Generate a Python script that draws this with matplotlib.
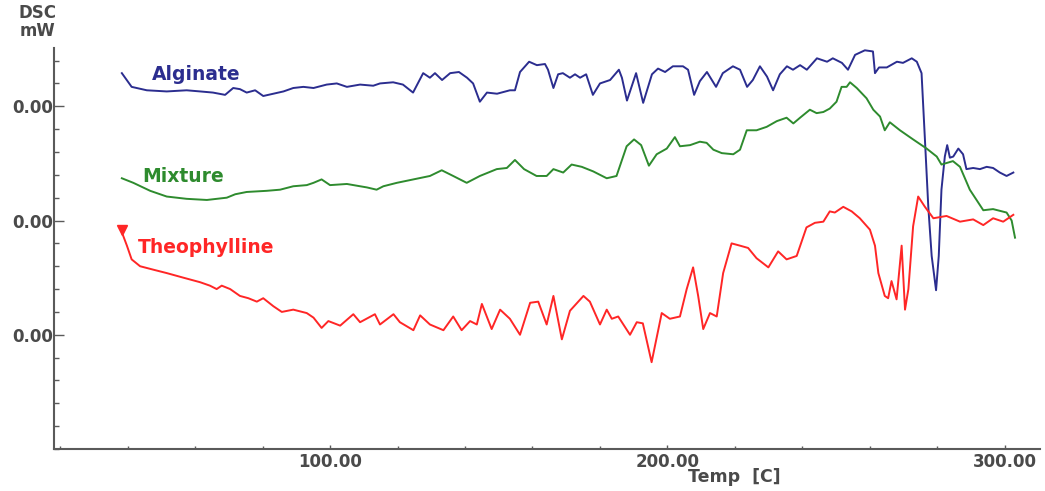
import numpy as np
import matplotlib
matplotlib.use("Agg")
import matplotlib.pyplot as plt
from matplotlib.ticker import FixedLocator, FixedFormatter, MultipleLocator

# Alginate curve (temp C, dsc)
alg_t = [38.3, 41.2, 45.7, 51.6, 57.5, 61.5, 65.3, 68.9, 71.3, 73.3, 75.3, 77.8, 80.2, 83.2, 86.2,
         89.1, 92.1, 95.1, 99.0, 102.0, 105.0, 108.9, 112.8, 114.8, 118.7, 121.6, 124.6, 127.6,
         129.6, 131.1, 133.2, 135.6, 138.2, 140.6, 142.4, 144.4, 146.5, 149.5, 153.3, 154.8,
         156.3, 159.0, 161.3, 163.7, 164.6, 166.2, 167.6, 169.0, 171.1, 172.6, 174.1, 175.9,
         177.9, 180.0, 183.0, 185.6, 186.5, 188.0, 190.7, 192.8, 195.4, 197.2, 199.3, 201.6,
         204.6, 206.1, 207.9, 209.6, 211.7, 214.4, 216.4, 219.4, 221.5, 223.6, 225.3, 227.4,
         229.5, 231.3, 233.3, 235.4, 237.2, 239.3, 241.3, 244.3, 247.3, 249.0, 251.7, 253.5,
         255.6, 258.5, 260.9, 261.5, 262.7, 265.0, 268.0, 269.8, 272.4, 273.9, 275.3, 276.3,
         277.3, 278.3, 279.6, 280.4, 281.2, 282.2, 282.9, 283.7, 284.7, 286.2, 287.6, 288.6,
         290.6, 292.6, 294.6, 296.5, 298.5, 300.5, 302.5]
alg_v = [1.29, 1.17, 1.14, 1.13, 1.14, 1.13, 1.12, 1.10, 1.16, 1.15, 1.12, 1.14, 1.09, 1.11, 1.13,
         1.16, 1.17, 1.16, 1.19, 1.20, 1.17, 1.19, 1.18, 1.20, 1.21, 1.19, 1.12, 1.29,
         1.25, 1.29, 1.23, 1.29, 1.30, 1.25, 1.20, 1.04, 1.12, 1.11, 1.14, 1.14,
         1.30, 1.39, 1.36, 1.37, 1.32, 1.16, 1.28, 1.29, 1.25, 1.28, 1.25, 1.28,
         1.10, 1.20, 1.23, 1.32, 1.25, 1.05, 1.29, 1.03, 1.28, 1.33, 1.30, 1.35,
         1.35, 1.32, 1.10, 1.22, 1.30, 1.17, 1.29, 1.35, 1.32, 1.17, 1.23, 1.35,
         1.26, 1.14, 1.28, 1.35, 1.32, 1.36, 1.32, 1.42, 1.39, 1.42, 1.38, 1.32,
         1.45, 1.49, 1.48, 1.29, 1.34, 1.34, 1.39, 1.38, 1.42, 1.39, 1.29, 0.71,
         0.12, -0.31, -0.61, -0.31, 0.27, 0.56, 0.66, 0.55, 0.56, 0.63, 0.58, 0.45,
         0.46, 0.45, 0.47, 0.46, 0.42, 0.39, 0.42]

# Mixture curve
mix_t = [38.3, 41.7, 46.7, 51.6, 57.5, 63.5, 69.4, 71.9, 75.3, 81.2, 85.2, 89.1, 93.1, 95.1, 97.5,
         100.0, 105.0, 108.9, 110.9, 113.8, 115.8, 119.8, 124.7, 129.6, 133.1, 136.5, 140.5,
         144.4, 149.4, 152.4, 154.8, 157.5, 161.2, 164.2, 166.2, 169.1, 171.6, 174.6, 178.0,
         182.0, 184.9, 187.9, 190.1, 192.2, 194.5, 196.8, 199.8, 202.2, 203.7, 206.7, 209.6,
         211.6, 213.6, 216.1, 219.5, 221.5, 223.5, 226.4, 229.4, 232.4, 235.3, 237.3, 239.3,
         242.2, 244.2, 246.2, 248.1, 250.1, 251.6, 253.1, 254.1, 256.1, 259.0, 261.0, 263.0,
         264.4, 265.9, 268.9, 272.8, 276.8, 279.8, 281.2, 284.6, 286.7, 289.6, 293.6, 296.5,
         300.5, 302.0, 303.0]
mix_v = [0.37, 0.33, 0.26, 0.21, 0.19, 0.18, 0.20, 0.23, 0.25, 0.26, 0.27, 0.30, 0.31, 0.33, 0.36,
         0.31, 0.32, 0.30, 0.29, 0.27, 0.30, 0.33, 0.36, 0.39, 0.44, 0.39, 0.33,
         0.39, 0.45, 0.46, 0.53, 0.45, 0.39, 0.39, 0.45, 0.42, 0.49, 0.47, 0.43,
         0.37, 0.39, 0.65, 0.71, 0.66, 0.48, 0.58, 0.63, 0.73, 0.65, 0.66, 0.69,
         0.68, 0.62, 0.59, 0.58, 0.62, 0.79, 0.79, 0.82, 0.87, 0.90, 0.85, 0.90,
         0.97, 0.94, 0.95, 0.98, 1.04, 1.17, 1.17, 1.21, 1.16, 1.07, 0.97, 0.91,
         0.79, 0.86, 0.79, 0.71, 0.63, 0.56, 0.49, 0.52, 0.47, 0.27, 0.09, 0.10,
         0.07, 0.00, -0.15]

# Theophylline curve
the_t = [38.4, 39.8, 41.2, 43.7, 47.6, 51.6, 56.5, 61.5, 64.4, 66.4, 67.9, 70.4, 73.3, 75.8, 78.3,
         80.2, 83.2, 85.7, 89.1, 93.1, 95.1, 97.5, 99.5, 103.0, 106.9, 108.9, 113.3, 114.8,
         118.8, 120.7, 124.7, 126.7, 129.6, 133.6, 136.5, 139.0, 141.5, 143.5, 145.0, 147.9,
         150.4, 153.3, 156.3, 159.3, 161.7, 164.2, 166.2, 168.7, 171.1, 175.1, 177.0, 180.0,
         182.0, 183.5, 185.4, 188.9, 190.9, 192.7, 195.3, 198.3, 200.7, 203.7, 205.7, 207.6,
         209.1, 210.6, 212.6, 214.6, 216.5, 219.0, 221.5, 223.9, 226.4, 229.9, 232.8, 235.3,
         238.3, 241.2, 243.7, 246.2, 248.1, 249.6, 252.1, 254.6, 257.0, 260.0, 261.5, 262.5,
         264.4, 265.4, 266.4, 267.9, 269.4, 270.4, 271.4, 272.8, 274.3, 276.3, 278.8, 282.7,
         286.7, 290.6, 293.6, 296.5, 299.5, 302.5]
the_v = [-0.11, -0.22, -0.34, -0.40, -0.43, -0.46, -0.50, -0.54, -0.57, -0.60, -0.57, -0.60, -0.66, -0.68, -0.71,
         -0.68, -0.75, -0.80, -0.78, -0.81, -0.85, -0.94, -0.88, -0.92, -0.82, -0.89, -0.82, -0.91,
         -0.82, -0.89, -0.96, -0.83, -0.91, -0.96, -0.84, -0.96, -0.88, -0.91, -0.73, -0.95,
         -0.78, -0.86, -1.00, -0.72, -0.71, -0.91, -0.66, -1.04, -0.79, -0.66, -0.71, -0.91,
         -0.78, -0.86, -0.84, -1.00, -0.89, -0.90, -1.24, -0.81, -0.86, -0.84, -0.60, -0.41,
         -0.66, -0.95, -0.81, -0.84, -0.46, -0.20, -0.22, -0.24, -0.33, -0.41, -0.27, -0.34,
         -0.31, -0.06, -0.02, -0.01, 0.08, 0.07, 0.12, 0.08, 0.02, -0.08, -0.22, -0.46,
         -0.66, -0.68, -0.53, -0.69, -0.22, -0.78, -0.60, -0.05, 0.21, 0.12, 0.02, 0.04,
         -0.01, 0.01, -0.04, 0.02, -0.01, 0.05]

names = ["Alginate", "Mixture", "Theophylline"]
colors = ["#2b2d8f", "#2e8b2e", "#ff2626"]
label_pos = [(47.3, 1.275), (44.3, 0.384), (43.1, -0.236)]

plt.rcParams['font.family'] = ['DejaVu Sans']
fig = plt.figure(figsize=(10.45, 4.91), dpi=100)
ax = fig.add_axes([0.0517, 0.0855, 0.9435, 0.8167])

ax.plot(alg_t, alg_v, color=colors[0], lw=1.4)
ax.plot(mix_t, mix_v, color=colors[1], lw=1.4)
ax.plot(the_t, the_v, color=colors[2], lw=1.4)
ax.plot(the_t[0], the_v[0] + 0.03, marker="v", color=colors[2], markersize=7)

for i in range(3):
    ax.text(label_pos[i][0], label_pos[i][1], names[i], color=colors[i], fontsize=13.5,
            fontweight="bold", va="center", ha="left")

ax.set_xlim(18.2, 310.4)
ax.set_ylim(-2.0, 1.51)

for s in ["top", "right"]:
    ax.spines[s].set_visible(False)
for s in ["left", "bottom"]:
    ax.spines[s].set_color("#5a5a5a")
    ax.spines[s].set_linewidth(1.5)

ax.xaxis.set_major_locator(FixedLocator([100, 200, 300]))
ax.xaxis.set_major_formatter(FixedFormatter(["100.00", "200.00", "300.00"]))
ax.xaxis.set_minor_locator(MultipleLocator(20))
ax.yaxis.set_major_locator(FixedLocator([-1, 0, 1]))
ax.yaxis.set_major_formatter(FixedFormatter(["0.00", "0.00", "0.00"]))
ax.yaxis.set_minor_locator(MultipleLocator(0.2))

ax.tick_params(axis="y", which="major", direction="in", length=7, width=1, color="#5a5a5a",
               labelsize=12, labelcolor="#4a4a4a", pad=1)
ax.tick_params(axis="y", which="minor", direction="in", length=3.5, width=1, color="#5a5a5a")
ax.tick_params(axis="x", which="major", direction="in", length=3, width=1, color="#5a5a5a",
               labelsize=12, labelcolor="#4a4a4a", pad=3)
ax.tick_params(axis="x", which="minor", direction="in", length=2, width=1, color="#5a5a5a")
for lab in ax.get_xticklabels() + ax.get_yticklabels():
    lab.set_fontweight("bold")

ax.set_xlabel("Temp  [C]", fontsize=12.5, fontweight="bold", color="#4a4a4a")
ax.xaxis.set_label_coords(0.69, -0.047)
ax.set_ylabel("DSC\nmW", fontsize=12, fontweight="bold", color="#4a4a4a", rotation=0,
              va="center", ha="center", linespacing=1.0)
ax.yaxis.set_label_coords(-0.017, 1.065)

fig.savefig("out.png", dpi=100)
